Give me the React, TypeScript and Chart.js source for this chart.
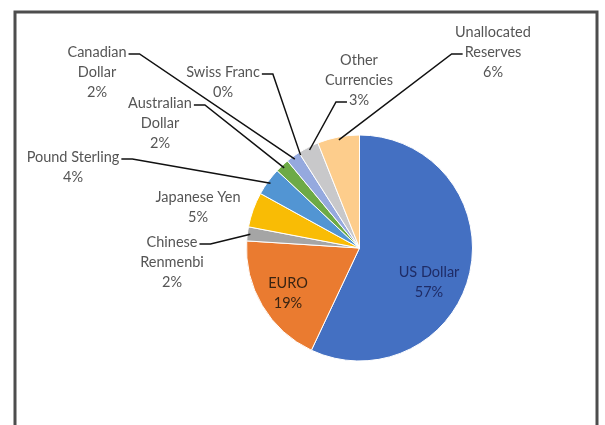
import { useEffect, useRef } from "react";
import { Chart, registerables } from "chart.js";

Chart.register(...registerables);

// ---- data ----
const categories = [
  "US Dollar",
  "EURO",
  "Chinese Renmenbi",
  "Japanese Yen",
  "Pound Sterling",
  "Australian Dollar",
  "Canadian Dollar",
  "Swiss Franc",
  "Other Currencies",
  "Unallocated Reserves",
];
const shares = [57, 19, 2, 5, 4, 2, 2, 0, 3, 6];
const labelLines = [
  ["US Dollar"],
  ["EURO"],
  ["Chinese", "Renmenbi"],
  ["Japanese Yen"],
  ["Pound Sterling"],
  ["Australian", "Dollar"],
  ["Canadian", "Dollar"],
  ["Swiss Franc"],
  ["Other", "Currencies"],
  ["Unallocated", "Reserves"],
];

// ---- styles / layout ----
const sliceColors = [
  "#4470C2",
  "#EA7B30",
  "#A5A5A5",
  "#F9BC05",
  "#5295D3",
  "#6DAA46",
  "#95A9DE",
  "#F4B183",
  "#C8C8CA",
  "#FDCD8C",
];
// anchor: centre x and y of first text line; leader: side & line index it leaves from
type LabelLayout = { x: number; y: number; leader: "none" | "right" | "left"; line: number; color: string };
const labelLayout: LabelLayout[] = [
  { x: 429, y: 272, leader: "none", line: 0, color: "#1F2C66" },
  { x: 288, y: 283, leader: "none", line: 0, color: "#3A2412" },
  { x: 172, y: 242, leader: "right", line: 0, color: "#555555" },
  { x: 198, y: 197, leader: "none", line: 0, color: "#555555" },
  { x: 73, y: 157, leader: "right", line: 0, color: "#555555" },
  { x: 160, y: 103, leader: "right", line: 0, color: "#555555" },
  { x: 97, y: 52, leader: "right", line: 0, color: "#555555" },
  { x: 223, y: 72, leader: "right", line: 0, color: "#555555" },
  { x: 359, y: 60, leader: "left", line: 2, color: "#555555" },
  { x: 493, y: 32, leader: "left", line: 1, color: "#555555" },
];
const LINE_H = 20;
const FONT = "14.5px Lato, 'Open Sans', sans-serif";

const framePlugin = {
  id: "frame",
  beforeDraw(chart: any) {
    const { ctx } = chart;
    ctx.save();
    ctx.fillStyle = "#ffffff";
    ctx.fillRect(0, 0, chart.width, chart.height);
    ctx.strokeStyle = "#4D4D4D";
    ctx.lineWidth = 3;
    ctx.strokeRect(15, 12, 582, 430);
    ctx.restore();
  },
};

const labelPlugin = {
  id: "sliceLabels",
  afterDraw(chart: any) {
    const { ctx } = chart;
    const meta = chart.getDatasetMeta(0);
    ctx.save();
    ctx.font = FONT;
    ctx.textAlign = "center";
    ctx.textBaseline = "middle";
    meta.data.forEach((arc: any, i: number) => {
      const lay = labelLayout[i];
      const lines = [...labelLines[i], `${shares[i]}%`];
      ctx.fillStyle = lay.color;
      lines.forEach((t, k) => ctx.fillText(t, lay.x, lay.y + k * LINE_H));
      if (lay.leader !== "none") {
        const { x, y, startAngle, endAngle, outerRadius } = arc.getProps(
          ["x", "y", "startAngle", "endAngle", "outerRadius"],
          true
        );
        const mid = (startAngle + endAngle) / 2;
        const ex = x + Math.cos(mid) * (outerRadius - 3);
        const ey = y + Math.sin(mid) * (outerRadius - 3);
        const w = ctx.measureText(lines[lay.line]).width;
        const ly = lay.y + lay.line * LINE_H + 2;
        const sx = lay.leader === "right" ? lay.x + w / 2 + 2 : lay.x - w / 2 - 2;
        const hx = lay.leader === "right" ? sx + 11 : sx - 11;
        ctx.strokeStyle = "#111111";
        ctx.lineWidth = 1.5;
        ctx.beginPath();
        ctx.moveTo(sx, ly);
        ctx.lineTo(hx, ly);
        ctx.lineTo(ex, ey);
        ctx.stroke();
      }
    });
    ctx.restore();
  },
};

export default function App() {
  const ref = useRef<HTMLCanvasElement | null>(null);
  useEffect(() => {
    if (!ref.current) return;
    const chart = new Chart(ref.current, {
      type: "pie",
      data: {
        labels: categories,
        datasets: [
          {
            data: shares,
            backgroundColor: sliceColors,
            borderColor: "#ffffff",
            borderWidth: 1,
          },
        ],
      },
      options: {
        responsive: false,
        animation: false,
        layout: { padding: { left: 246, right: 132, top: 134, bottom: 63 } },
        plugins: {
          legend: { display: false },
          tooltip: { enabled: false },
        },
      },
      plugins: [framePlugin, labelPlugin],
    });
    return () => chart.destroy();
  }, []);
  return (
    <canvas
      ref={ref}
      width={605}
      height={425}
      style={{ position: "absolute", left: 0, top: 0, width: 605, height: 425 }}
    />
  );
}
